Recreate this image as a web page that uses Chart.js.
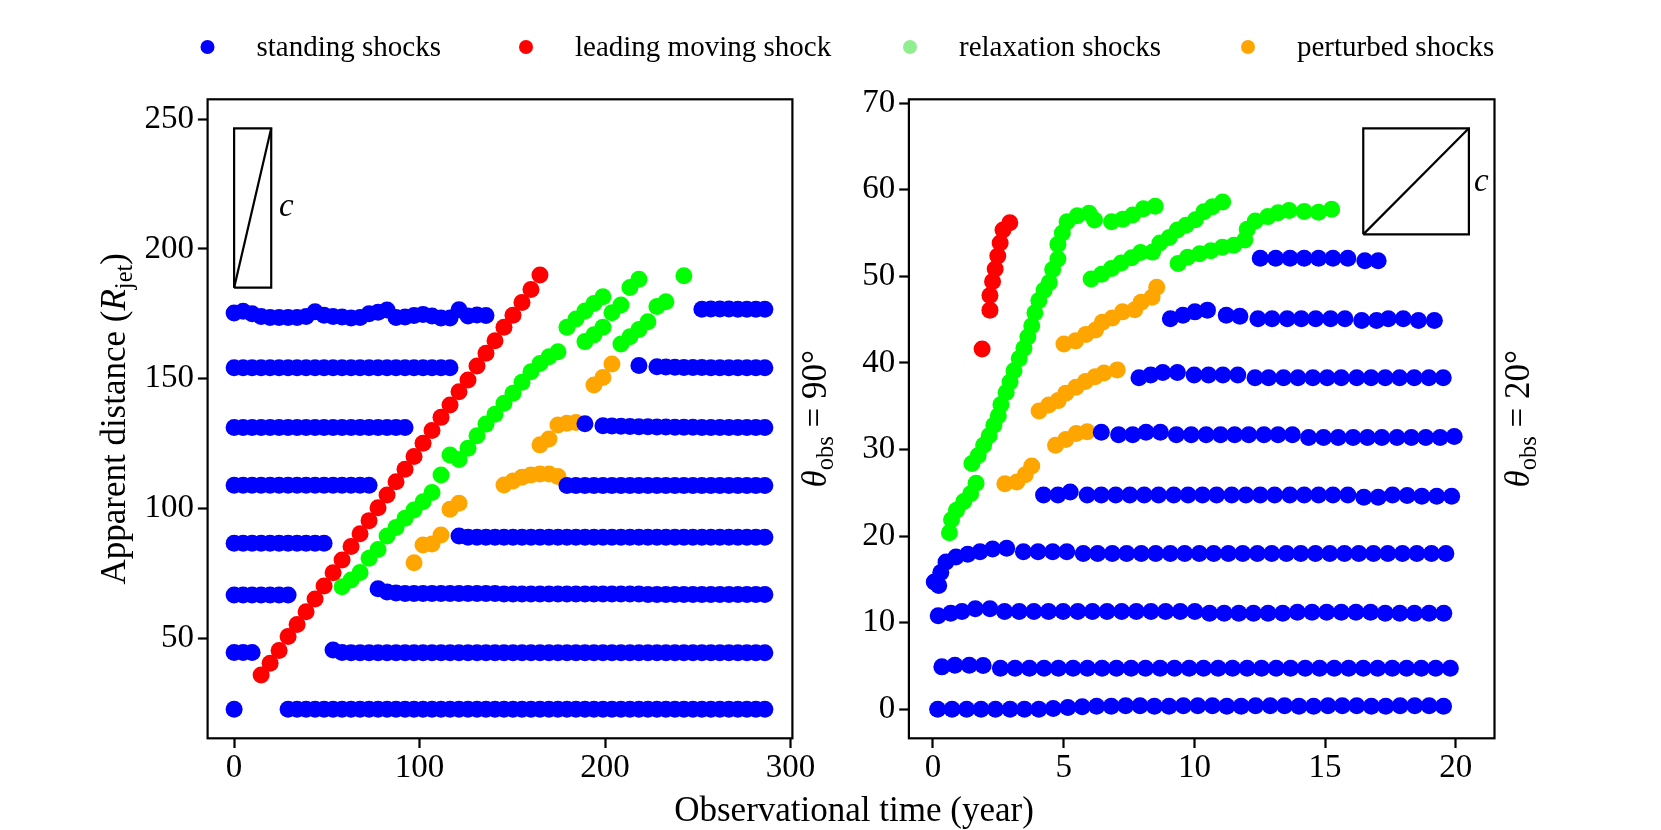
<!DOCTYPE html>
<html>
<head>
<meta charset="utf-8">
<script src="https://cdn.jsdelivr.net/npm/chart.js@4.4.0/dist/chart.umd.min.js"></script>
<style>
  html, body { margin: 0; padding: 0; background: #fff; }
  #wrap { position: relative; width: 1661px; height: 830px; overflow: hidden; }
  #wrap canvas { position: absolute; left: 0; top: 0; }
</style>
</head>
<body>
<div id="wrap">
  <canvas id="left" width="1661" height="830"></canvas>
  <canvas id="right" width="1661" height="830"></canvas>
</div>
<script>
const _ = null;

// ---- theta_obs = 90 deg : every shock sampled on the same time grid ----
const timeL = [0,4.85,9.7,14.55,19.4,24.25,29.1,33.95,38.8,43.65,
  48.5,53.35,58.2,63.05,67.9,72.75,77.6,82.45,87.3,92.15,
  97,101.85,106.7,111.55,116.4,121.25,126.1,130.95,135.8,140.65,
  145.5,150.35,155.2,160.05,164.9,169.75,174.6,179.45,184.3,189.15,
  194,198.85,203.7,208.55,213.4,218.25,223.1,227.95,232.8,237.65,
  242.5,247.35,252.2,257.05,261.9,266.75,271.6,276.45,281.3,286.15];

const standL1 = [22.6,_,_,_,_,_,22.6,22.6,22.6,22.6,
  22.6,22.6,22.6,22.6,22.6,22.6,22.6,22.6,22.6,22.6,
  22.6,22.6,22.6,22.6,22.6,22.6,22.6,22.6,22.6,22.6,
  22.6,22.6,22.6,22.6,22.6,22.6,22.6,22.6,22.6,22.6,
  22.6,22.6,22.6,22.6,22.6,22.6,22.6,22.6,22.6,22.6,
  22.6,22.6,22.6,22.6,22.6,22.6,22.6,22.6,22.6,22.6];
const standL2 = [44.5,44.5,44.5,_,_,_,_,_,_,_,
  _,45.4,44.5,44.4,44.4,44.4,44.4,44.4,44.4,44.4,
  44.4,44.4,44.4,44.4,44.4,44.4,44.4,44.4,44.4,44.4,
  44.4,44.4,44.4,44.4,44.4,44.4,44.4,44.4,44.4,44.4,
  44.4,44.4,44.4,44.4,44.4,44.4,44.4,44.4,44.4,44.4,
  44.4,44.4,44.4,44.4,44.4,44.4,44.4,44.4,44.4,44.4];
const standL3 = [66.6,66.6,66.6,66.6,66.6,66.6,66.6,_,_,_,
  _,_,_,_,_,_,69.0,67.8,67.4,67.2,
  67.2,67.2,67.2,67.2,67.2,67.2,67.2,67.2,67.2,67.2,
  67.0,67.0,67.0,67.0,67.0,67.0,67.0,67.0,67.0,67.0,
  67.0,67.0,67.0,67.0,67.0,67.0,66.8,66.8,66.8,66.8,
  66.8,66.8,66.8,66.8,66.8,66.8,66.8,66.8,66.8,66.8];
const standL4 = [86.6,86.6,86.6,86.6,86.6,86.6,86.6,86.6,86.6,86.6,
  86.6,_,_,_,_,_,_,_,_,_,
  _,_,_,_,_,89.4,88.9,88.9,88.9,88.9,
  88.9,88.9,88.9,88.9,88.9,88.9,88.9,88.9,88.9,88.9,
  88.9,88.9,88.9,88.9,88.9,88.9,88.9,88.9,88.9,88.9,
  88.9,88.9,88.9,88.9,88.9,88.9,88.9,88.9,88.9,88.9];
const standL5 = [108.9,108.9,108.9,108.9,108.9,108.9,108.9,108.9,108.9,108.9,
  108.9,108.9,108.9,108.9,108.9,108.9,_,_,_,_,
  _,_,_,_,_,_,_,_,_,_,
  _,_,_,_,_,_,_,108.8,108.8,108.8,
  108.8,108.8,108.8,108.8,108.8,108.8,108.8,108.8,108.8,108.8,
  108.8,108.8,108.8,108.8,108.8,108.8,108.8,108.8,108.8,108.8];
const standL6 = [131.2,131.2,131.2,131.2,131.2,131.2,131.2,131.2,131.2,131.2,
  131.2,131.2,131.2,131.2,131.2,131.2,131.2,131.2,131.2,131.2,
  _,_,_,_,_,_,_,_,_,_,
  _,_,_,_,_,_,_,_,_,132.6,
  _,131.9,131.8,131.7,131.6,131.5,131.5,131.4,131.4,131.3,
  131.3,131.3,131.2,131.2,131.2,131.2,131.2,131.2,131.2,131.2];
const standL7 = [154.2,154.2,154.2,154.2,154.2,154.2,154.2,154.2,154.2,154.2,
  154.2,154.2,154.2,154.2,154.2,154.2,154.2,154.2,154.2,154.2,
  154.2,154.2,154.2,154.2,154.2,_,_,_,_,_,
  _,_,_,_,_,_,_,_,_,_,
  _,_,_,_,_,155.1,_,154.6,154.5,154.4,
  154.3,154.3,154.3,154.2,154.2,154.2,154.2,154.2,154.2,154.2];
const standL8 = [175.3,176.0,175.0,174.0,173.6,173.6,173.6,173.6,174.0,175.8,
  174.5,174.0,173.8,173.4,173.6,175.0,175.6,176.5,173.6,173.8,
  174.4,174.8,174.2,173.4,173.4,176.6,174.2,174.6,174.4,_,
  _,_,_,_,_,_,_,_,_,_,
  _,_,_,_,_,_,_,_,_,_,
  _,_,176.8,176.9,176.9,176.9,176.8,176.8,176.8,176.8];

const movingL = [_,_,_,35.8,40.3,45.2,50.6,55.3,60.2,65.1,
  70.1,75.2,80.1,85.3,90.2,95.3,100.3,105.2,110.3,115.1,
  120.0,125.1,130.0,135.1,139.9,145.0,149.5,154.9,159.8,164.6,
  169.8,174.5,179.4,184.4,190.0];

const relaxL1 = [_,_,_,_,_,_,_,_,_,_,
  _,_,69.8,72.4,75.3,80.8,84.2,89.4,92.7,96.2,
  99.4,102.6,106.1,112.9,120.6,118.9,123.2,128.0,132.5,136.3,
  140.5,144.4,148.6,152.7,155.9,158.5,160.4,169.8,173.0,176.1,
  179.0,181.6];
const relaxL2 = [_,_,_,_,_,_,_,_,_,_,
  _,_,_,_,_,_,_,_,_,_,
  _,_,_,_,_,_,_,_,_,_,
  _,_,_,_,_,_,_,_,_,164.3,
  166.9,169.8,175.4,178.4,185.2,188.3];
const relaxL3 = [_,_,_,_,_,_,_,_,_,_,
  _,_,_,_,_,_,_,_,_,_,
  _,_,_,_,_,_,_,_,_,_,
  _,_,_,_,_,_,_,_,_,_,
  _,_,_,163.4,166.2,169.0,172.0,177.8,179.7,_,
  189.7];

const perturbL1 = [_,_,_,_,_,_,_,_,_,_,
  _,_,_,_,_,_,_,_,_,_,
  79.1,85.9,86.3,89.8,99.7,102.0];
const perturbL2 = [_,_,_,_,_,_,_,_,_,_,
  _,_,_,_,_,_,_,_,_,_,
  _,_,_,_,_,_,_,_,_,_,
  109.0,110.6,112.0,112.9,113.3,113.3,112.3];
const perturbL3 = [_,_,_,_,_,_,_,_,_,_,
  _,_,_,_,_,_,_,_,_,_,
  _,_,_,_,_,_,_,_,_,_,
  _,_,_,_,124.5,126.8,132.2,132.8,133.1];
const perturbL4 = [_,_,_,_,_,_,_,_,_,_,
  _,_,_,_,_,_,_,_,_,_,
  _,_,_,_,_,_,_,_,_,_,
  _,_,_,_,_,_,_,_,_,_,
  147.6,150.5,155.7];

// ---- theta_obs = 20 deg : each shock has its own observed times ----
const standR1x = [0.18,0.73,1.29,1.84,2.39,2.95,3.50,4.05,4.60,5.16,5.71,6.26,6.82,7.37,7.92,8.47,9.03,9.58,
  10.13,10.69,11.24,11.79,12.34,12.90,13.45,14.00,14.56,15.11,15.66,16.21,16.77,17.32,17.87,18.43,18.98,19.53];
const standR1y = [0,0,0,0,0,0,0,0,0.1,0.2,0.3,0.35,0.35,0.4,0.4,0.35,0.35,0.4,
  0.4,0.4,0.35,0.35,0.4,0.4,0.4,0.35,0.35,0.4,0.4,0.4,0.35,0.35,0.4,0.4,0.4,0.35];
const standR2x = [0.34,0.84,1.39,1.92,2.58,3.14,3.69,4.25,4.80,5.36,5.91,6.47,7.02,7.58,8.13,8.69,9.24,9.80,
  10.35,10.91,11.46,12.02,12.57,13.13,13.68,14.24,14.79,15.35,15.90,16.46,17.01,17.57,18.12,18.68,19.23,19.79];
const standR2y = [4.9,5.1,5.1,5.05,4.75,4.75,4.75,4.75,4.75,4.75,4.75,4.75,4.75,4.75,4.75,4.75,4.75,4.75,
  4.75,4.75,4.75,4.75,4.75,4.75,4.75,4.75,4.75,4.75,4.75,4.75,4.75,4.75,4.75,4.75,4.75,4.75];
const standR3x = [0.20,0.68,1.11,1.62,2.18,2.74,3.30,3.86,4.42,4.98,5.54,6.10,6.66,7.22,7.78,8.34,8.90,9.46,
  10.02,10.58,11.14,11.70,12.26,12.82,13.38,13.94,14.50,15.06,15.62,16.18,16.74,17.30,17.86,18.42,18.98,19.54];
const standR3y = [10.8,11.1,11.3,11.6,11.6,11.3,11.3,11.3,11.3,11.3,11.3,11.3,11.3,11.3,11.3,11.3,11.3,11.3,
  11.3,11.1,11.1,11.1,11.1,11.1,11.1,11.2,11.2,11.2,11.2,11.2,11.2,11.1,11.1,11.1,11.1,11.1];
const standR4x = [0.05,0.22,0.30,0.50,0.88,1.33,1.80,2.28,2.82,3.46,4.02,4.58,5.12,5.75,6.30,6.86,7.41,7.97,8.52,
  9.08,9.63,10.19,10.74,11.30,11.85,12.41,12.96,13.52,14.07,14.63,15.18,15.74,16.29,16.85,17.40,17.96,18.51,19.07,19.62];
const standR4y = [14.7,14.3,15.8,17.0,17.6,17.9,18.2,18.5,18.6,18.2,18.2,18.2,18.2,18.0,18.0,18.0,18.0,18.0,18.0,
  18.0,18.0,18.0,18.0,18.0,18.0,18.0,18.0,18.0,18.0,18.0,18.0,18.0,18.0,18.0,18.0,18.0,18.0,18.0,18.0];
const standR5x = [4.23,4.78,5.25,5.90,6.44,6.99,7.53,8.08,8.63,9.21,9.76,10.31,10.85,11.43,11.97,
  12.52,13.07,13.65,14.20,14.75,15.30,15.87,16.48,17.03,17.58,18.14,18.70,19.27,19.84];
const standR5y = [24.75,24.75,25.1,24.75,24.75,24.75,24.75,24.75,24.75,24.75,24.75,24.75,24.75,24.75,24.75,
  24.75,24.75,24.75,24.75,24.75,24.75,24.75,24.5,24.5,24.75,24.7,24.6,24.6,24.6];
const standR6x = [6.44,7.10,7.64,8.15,8.70,9.31,9.88,10.45,11.00,11.54,12.08,12.66,13.20,
  13.75,14.37,14.94,15.50,16.07,16.62,17.17,17.75,18.30,18.85,19.40,19.94];
const standR6y = [32.0,31.7,31.7,32.0,32.0,31.7,31.7,31.7,31.7,31.7,31.7,31.7,31.7,
  31.7,31.4,31.4,31.4,31.4,31.4,31.4,31.4,31.4,31.4,31.4,31.5];
const standR7x = [7.88,8.33,8.79,9.35,9.99,10.54,11.09,11.66,12.32,12.84,13.41,
  13.96,14.53,15.08,15.62,16.21,16.76,17.30,17.85,18.41,18.97,19.52];
const standR7y = [38.3,38.6,38.9,38.9,38.6,38.6,38.6,38.6,38.3,38.3,38.3,
  38.3,38.3,38.3,38.3,38.3,38.3,38.3,38.3,38.3,38.3,38.3];
const standR8x = [9.08,9.56,10.02,10.50,11.22,11.74,12.43,12.97,13.55,14.09,14.64,15.21,15.76,16.40,16.97,17.42,17.99,18.57,19.18];
const standR8y = [45.1,45.5,45.9,46.1,45.5,45.4,45.1,45.1,45.1,45.1,45.1,45.1,45.1,44.9,44.9,45.1,45.1,44.9,44.9];
const standR9x = [12.52,13.11,13.66,14.20,14.75,15.30,15.87,16.52,17.03];
const standR9y = [52.1,52.1,52.1,52.1,52.1,52.1,52.1,51.8,51.8];

const movingRx = [1.88,2.18,2.18,2.28,2.38,2.48,2.57,2.68,2.94];
const movingRy = [41.6,46.1,47.8,49.4,50.85,52.35,53.85,55.35,56.2];

const relaxR1x = [0.63,0.71,0.90,1.18,1.44,1.65,1.49,1.73,1.94,2.15,2.33,2.50,2.60,2.80,2.95,3.10,
  3.30,3.48,3.63,3.78,3.90,4.05,4.25,4.45,4.58,4.78,4.78,4.95,5.13,5.52,5.97,6.18];
const relaxR1y = [20.4,21.9,23.0,24.0,24.9,26.1,28.4,29.3,30.5,31.6,32.8,33.9,35.2,36.6,37.8,39.1,
  40.5,41.7,43.0,44.3,45.8,47.2,48.4,49.3,50.8,52.0,53.7,55.0,56.3,57.0,57.3,56.5];
const relaxR2x = [6.83,7.26,7.64,8.05,8.50];
const relaxR2y = [56.3,56.6,57.1,57.8,58.1];
const relaxR3x = [6.05,6.45,6.83,7.20,7.60,7.94,8.40,8.68,9.04,9.35,9.68,10.04,10.36,10.69,11.08];
const relaxR3y = [49.7,50.25,50.9,51.55,52.15,52.75,52.8,53.85,54.5,55.35,55.9,56.55,57.45,58.05,58.6];
const relaxR4x = [9.38,9.74,10.20,10.63,11.07,11.51,11.93,12.02,12.33,12.81,13.20,13.62,14.20,14.75,15.25];
const relaxR4y = [51.5,52.2,52.6,52.95,53.35,53.6,54.2,55.45,56.4,56.9,57.35,57.6,57.5,57.4,57.75];

const perturbR1x = [2.75,3.21,3.53,3.78];
const perturbR1y = [26.05,26.25,27.1,28.1];
const perturbR2x = [4.69,5.08,5.48,5.90];
const perturbR2y = [30.5,31.15,31.85,32.05];
const perturbR3x = [4.06,4.43,4.79,5.08,5.47,5.83,6.20,6.54,7.05];
const perturbR3y = [34.45,35.15,35.65,36.5,37.2,37.85,38.4,38.85,39.2];
const perturbR4x = [5.01,5.46,5.85,6.22,6.48,6.86,7.25,7.72,7.96,8.38,8.56];
const perturbR4y = [42.2,42.55,43.3,43.8,44.7,45.2,45.9,46.15,47.0,47.6,48.75];

// light-speed reference boxes
const insetLx = [0, 20, 20, 0, 0];
const insetLy = [185.1, 185.1, 246.5, 246.5, 185.1];
const insetRx = [16.46, 20.5, 20.5, 16.46, 16.46];
const insetRy = [54.85, 54.85, 67.1, 67.1, 54.85];

const categories = ['standing shocks', 'leading moving shock', 'relaxation shocks', 'perturbed shocks'];
const xTicksL = [0, 100, 200, 300];
const yTicksL = [50, 100, 150, 200, 250];
const xTicksR = [0, 5, 10, 15, 20];
const yTicksR = [0, 10, 20, 30, 40, 50, 60, 70];

// ---- styling ----
const FAMILY = '"Liberation Serif", "Times New Roman", serif';
const colours = ['#0000ff', '#ff0000', '#00ff00', '#ffa500'];
const legendColours = ['#0000ff', '#ff0000', '#90ee90', '#ffa500'];

function fromGrid(rows) {
  const pts = [];
  rows.forEach(row => row.forEach((v, i) => {
    if (v !== null) pts.push({ x: timeL[i], y: v });
  }));
  return pts;
}
function fromPairs(pairs) {
  const pts = [];
  pairs.forEach(([xs, ys]) => xs.forEach((x, i) => pts.push({ x: x, y: ys[i] })));
  return pts;
}
function shockSet(k, data) {
  return {
    label: categories[k], data: data,
    backgroundColor: colours[k], borderColor: colours[k], borderWidth: 0,
    pointRadius: 8.5, pointHoverRadius: 8.5,
    order: k === 0 ? 0 : k + 1
  };
}
function lineSet(xs, ys) {
  return {
    label: '', data: fromPairs([[xs, ys]]), showLine: true,
    borderColor: '#000', borderWidth: 2.2, pointRadius: 0, fill: false, order: 9
  };
}

function drawRich(ctx, parts, x, y, angle, size) {
  ctx.save();
  ctx.translate(x, y);
  ctx.rotate(angle);
  ctx.textAlign = 'left';
  ctx.textBaseline = 'alphabetic';
  const fontOf = p => (p.italic ? 'italic ' : '') + (size * (p.scale || 1)).toFixed(1) + 'px ' + FAMILY;
  let total = 0;
  parts.forEach(p => { ctx.font = fontOf(p); total += ctx.measureText(p.text).width; });
  let cx = -total / 2;
  parts.forEach(p => {
    ctx.font = fontOf(p);
    ctx.fillText(p.text, cx, (p.drop || 0) * size);
    cx += ctx.measureText(p.text).width;
  });
  ctx.restore();
}
function thetaParts(angle) {
  return [{ text: '\u03B8', italic: true }, { text: 'obs', scale: 0.7, drop: 0.2 }, { text: ' = ' + angle }];
}

function axis(min, max, ticks, fit, pad) {
  return {
    type: 'linear', min: min, max: max,
    afterBuildTicks: s => { s.ticks = ticks.map(v => ({ value: v })); },
    afterFit: fit,
    border: { display: false },
    grid: { drawOnChartArea: false, drawTicks: true, tickLength: 9.7, tickWidth: 2.2, tickColor: '#000' },
    ticks: { color: '#000', padding: pad, maxRotation: 0, autoSkip: false, font: { family: FAMILY, size: 33 } }
  };
}
function panelOptions(xr, yr, xt, yt, yAxisWidth, padRight) {
  return {
    responsive: false, animation: false, events: [],
    layout: { padding: { left: 0, top: 99.3, right: padRight, bottom: 0 } },
    plugins: { legend: { display: false }, tooltip: { enabled: false } },
    scales: {
      x: axis(xr[0], xr[1], xt, s => { s.height = 91.7; }, 1),
      y: axis(yr[0], yr[1], yt, s => { s.width = yAxisWidth; }, 4)
    }
  };
}
function frame(ctx, a) {
  ctx.save();
  ctx.strokeStyle = '#000';
  ctx.lineWidth = 2.2;
  ctx.strokeRect(a.left, a.top, a.right - a.left, a.bottom - a.top);
  ctx.restore();
}

const legendX = [207.5, 526, 910, 1248];

const leftDeco = {
  id: 'leftDeco',
  afterDraw(chart) {
    const ctx = chart.ctx, a = chart.chartArea, sx = chart.scales.x, sy = chart.scales.y;
    frame(ctx, a);
    ctx.save();
    ctx.fillStyle = '#000';
    const midY = (a.top + a.bottom) / 2;
    drawRich(ctx, [{ text: 'Apparent distance (' }, { text: 'R', italic: true },
      { text: 'jet', scale: 0.7, drop: 0.2 }, { text: ')' }], 125, midY, -Math.PI / 2, 35);
    drawRich(ctx, thetaParts('90\u00B0'), a.right + 34, midY, -Math.PI / 2, 35);
    drawRich(ctx, [{ text: 'Observational time (year)' }], 854, 821, 0, 35);
    drawRich(ctx, [{ text: 'c', italic: true }], sx.getPixelForValue(28.2), sy.getPixelForValue(215.7) + 7.5, 0, 33);
    // shared legend
    ctx.textAlign = 'left';
    ctx.textBaseline = 'alphabetic';
    ctx.font = '29px ' + FAMILY;
    categories.forEach((name, k) => {
      ctx.fillStyle = legendColours[k];
      ctx.beginPath();
      ctx.arc(legendX[k], 47, 7, 0, Math.PI * 2);
      ctx.fill();
      ctx.fillStyle = '#000';
      ctx.fillText(name, legendX[k] + 49, 56);
    });
    ctx.restore();
  }
};
const rightDeco = {
  id: 'rightDeco',
  afterDraw(chart) {
    const ctx = chart.ctx, a = chart.chartArea, sx = chart.scales.x, sy = chart.scales.y;
    frame(ctx, a);
    ctx.save();
    ctx.fillStyle = '#000';
    drawRich(ctx, thetaParts('20\u00B0'), a.right + 34, (a.top + a.bottom) / 2, -Math.PI / 2, 35);
    drawRich(ctx, [{ text: 'c', italic: true }], sx.getPixelForValue(20.98), sy.getPixelForValue(60.68) + 7.5, 0, 33);
    ctx.restore();
  }
};

new Chart(document.getElementById('left'), {
  type: 'scatter',
  data: {
    datasets: [
      shockSet(0, fromGrid([standL1, standL2, standL3, standL4, standL5, standL6, standL7, standL8])),
      shockSet(1, fromGrid([movingL])),
      shockSet(2, fromGrid([relaxL1, relaxL2, relaxL3])),
      shockSet(3, fromGrid([perturbL1, perturbL2, perturbL3, perturbL4])),
      lineSet(insetLx, insetLy),
      lineSet([insetLx[0], insetLx[1]], [insetLy[0], insetLy[2]])
    ]
  },
  options: panelOptions([-14.3, 301], [11.4, 257.7], xTicksL, yTicksL, 207.6, 1661 - 792.4),
  plugins: [leftDeco]
});

new Chart(document.getElementById('right'), {
  type: 'scatter',
  data: {
    datasets: [
      shockSet(0, fromPairs([[standR1x, standR1y], [standR2x, standR2y], [standR3x, standR3y],
        [standR4x, standR4y], [standR5x, standR5y], [standR6x, standR6y], [standR7x, standR7y],
        [standR8x, standR8y], [standR9x, standR9y]])),
      shockSet(1, fromPairs([[movingRx, movingRy]])),
      shockSet(2, fromPairs([[relaxR1x, relaxR1y], [relaxR2x, relaxR2y], [relaxR3x, relaxR3y], [relaxR4x, relaxR4y]])),
      shockSet(3, fromPairs([[perturbR1x, perturbR1y], [perturbR2x, perturbR2y], [perturbR3x, perturbR3y], [perturbR4x, perturbR4y]])),
      lineSet(insetRx, insetRy),
      lineSet([insetRx[0], insetRx[1]], [insetRy[0], insetRy[2]])
    ]
  },
  options: panelOptions([-0.92, 21.48], [-3.35, 70.45], xTicksR, yTicksR, 908.9, 1661 - 1494.5),
  plugins: [rightDeco]
});
</script>
</body>
</html>
